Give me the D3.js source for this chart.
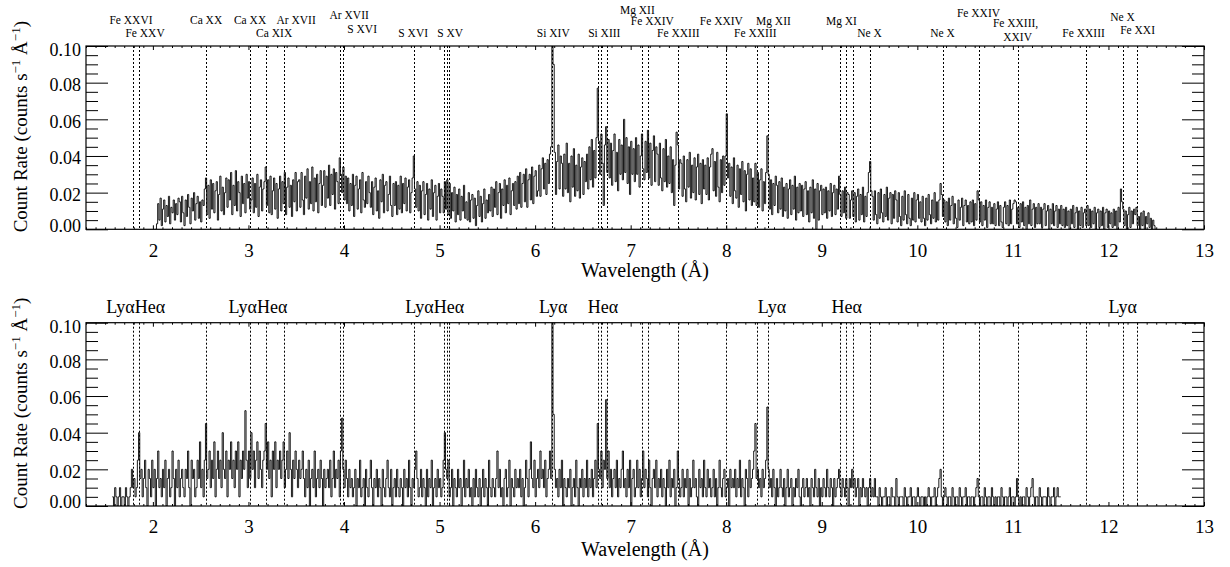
<!DOCTYPE html>
<html><head><meta charset="utf-8">
<script src="https://cdn.jsdelivr.net/npm/d3@7"></script>
<style>body{margin:0;background:#fff}</style>
</head><body>
<svg id="chart" width="1230" height="567"></svg>
<script>
// ---------------- DATA ----------------
// Emission line wavelengths (Å) marked with dotted lines
const lineWaves = [1.79, 1.85, 2.56, 3.02, 3.18, 3.37, 3.96, 3.99, 4.73, 5.05, 5.08, 5.10,
  6.18, 6.66, 6.69, 6.75, 7.12, 7.18, 7.50, 8.00, 8.32, 8.44, 9.19, 9.25, 9.33, 9.50,
  10.27, 10.65, 11.05, 11.76, 12.15, 12.30];
// Ion labels above upper panel
const topLabelText = ["Fe XXVI","Fe XXV","Ca XX","Ca XX","Ca XIX","Ar XVII","Ar XVII","S XVI","S XVI","S XV",
  "Si XIV","Si XIII","Mg XII","Fe XXIV","Fe XXIII","Fe XXIV","Mg XII","Fe XXIII","Mg XI","Ne X","Ne X",
  "Fe XXIV","Fe XXIII,","XXIV","Fe XXIII","Ne X","Fe XXI"];
const topLabelWave = [1.771, 1.918, 2.557, 3.017, 3.269, 3.499, 4.054, 4.19, 4.724, 5.112,
  6.19, 6.724, 7.07, 7.227, 7.499, 7.949, 8.494, 8.305, 9.206, 9.499, 10.263,
  10.64, 11.028, 11.049, 11.74, 12.148, 12.305];
// Transition labels above lower panel
const bottomLabelText = ["Ly\u03b1He\u03b1","Ly\u03b1He\u03b1","Ly\u03b1He\u03b1","Ly\u03b1","He\u03b1","Ly\u03b1","He\u03b1","Ly\u03b1"];
const bottomLabelWave = [1.82, 3.10, 4.95, 6.19, 6.71, 8.48, 9.26, 12.15];
// axis ticks
const xMajorTicks = [2,3,4,5,6,7,8,9,10,11,12,13];
const yMajorTicks = [0, 0.02, 0.04, 0.06, 0.08, 0.10];
// Spectrum bins (Å)
const binWidth = 0.0125;
const topStart = 2.025;
const bottomStart = 1.575;
// Upper panel count rate (counts s^-1 Å^-1), 0.25 Å per row
const topRate = [
0,.003,.014,.005,.017,.002,.011,.016,.004,.013,.007,.018,.003,.012,.009,.016,.005,.014,.008,.017,
.015,.004,.018,.009,.002,.016,.007,.019,.012,.003,.017,.010,.020,.005,.014,.018,.006,.015,.004,.016,
.013,.022,.028,.008,.024,.006,.027,.011,.025,.009,.021,.026,.005,.019,.029,.010,.023,.008,.020,.028,
.012,.027,.016,.031,.008,.024,.013,.032,.010,.026,.020,.007,.029,.014,.025,.009,.030,.017,.026,.011,
.016,.028,.009,.025,.012,.030,.007,.023,.027,.010,.022,.026,.034,.013,.027,.009,.029,.008,.021,.028,
.011,.025,.006,.022,.029,.010,.026,.014,.031,.008,.023,.028,.012,.024,.007,.027,.015,.031,.010,.026,
.027,.012,.031,.016,.008,.029,.017,.033,.011,.026,.014,.034,.010,.028,.015,.030,.009,.025,.032,.013,
.024,.032,.012,.029,.017,.035,.013,.030,.019,.033,.011,.031,.026,.014,.039,.030,.020,.034,.016,.029,
.014,.028,.010,.025,.013,.030,.007,.024,.029,.011,.022,.027,.009,.031,.016,.012,.026,.014,.029,.020,
.012,.026,.008,.023,.028,.010,.021,.006,.027,.015,.030,.009,.024,.026,.010,.019,.029,.013,.007,.025,
.013,.026,.008,.024,.011,.029,.009,.025,.014,.028,.010,.023,.027,.009,.020,.028,.040,.022,.012,.026,
.010,.024,.006,.021,.026,.008,.019,.025,.005,.022,.011,.027,.007,.020,.024,.005,.018,.025,.009,.022,
.018,.009,.026,.011,.027,.008,.025,.006,.020,.010,.023,.004,.019,.008,.022,.005,.018,.010,.024,.006,
.015,.005,.020,.004,.016,.019,.006,.017,.002,.013,.021,.007,.018,.004,.014,.022,.006,.016,.009,.019,
.010,.023,.007,.022,.012,.026,.008,.020,.025,.006,.022,.013,.027,.009,.024,.014,.028,.008,.021,.025,
.013,.026,.011,.029,.014,.031,.012,.025,.030,.015,.033,.012,.027,.030,.016,.034,.014,.029,.032,.018,
.021,.035,.018,.033,.039,.022,.036,.019,.038,.025,.041,.045,.106,.090,.042,.019,.037,.046,.022,.040,
.036,.018,.041,.022,.047,.020,.036,.015,.040,.023,.044,.018,.035,.021,.041,.017,.034,.039,.019,.037,
.026,.041,.022,.045,.027,.049,.023,.043,.028,.050,.077,.048,.030,.052,.036,.013,.046,.056,.031,.049,
.028,.047,.024,.043,.052,.026,.042,.021,.049,.030,.046,.027,.060,.031,.050,.025,.045,.019,.048,.030,
.044,.026,.050,.030,.046,.023,.040,.052,.033,.027,.048,.031,.054,.028,.047,.024,.043,.051,.026,.045,
.041,.024,.047,.028,.021,.044,.026,.049,.023,.040,.025,.045,.020,.038,.013,.035,.053,.046,.022,.038,
.036,.018,.040,.022,.015,.038,.023,.042,.017,.035,.020,.039,.016,.034,.041,.019,.036,.014,.038,.022,
.035,.019,.039,.016,.034,.041,.044,.021,.037,.018,.042,.023,.015,.038,.020,.040,.024,.040,.063,.028,
.036,.018,.034,.014,.039,.021,.017,.035,.012,.033,.019,.037,.015,.032,.010,.030,.036,.016,.033,.013,
.028,.015,.036,.013,.031,.012,.027,.033,.010,.026,.014,.031,.051,.030,.011,.027,.008,.025,.013,.029,
.024,.009,.026,.011,.028,.007,.023,.010,.025,.006,.022,.027,.008,.024,.011,.029,.005,.023,.009,.025,
.010,.024,.007,.022,.026,.008,.021,.004,.023,.009,.027,.006,.022,0,.025,.005,.021,.024,.008,.022,
.009,.023,.006,.021,.010,.025,.007,.020,.024,.008,.022,.011,.029,.019,.007,.021,.009,.023,.006,.020,
.019,.006,.016,.021,.007,.020,.004,.018,.022,.005,.019,.008,.023,.004,.018,.007,.020,.031,.037,.021,
.018,.005,.021,.008,.003,.020,.006,.022,.009,.004,.019,.007,.023,.005,.017,.020,.003,.019,.006,.021,
.016,.004,.020,.007,.002,.018,.005,.021,.008,.003,.019,.006,.002,.017,.005,.020,.004,.016,.019,.006,
.015,.004,.018,.006,.002,.017,.005,.019,.008,.003,.016,.006,.020,.004,.015,.005,.016,.025,.019,.007,
.016,.004,.015,.002,.017,.005,.013,.018,.003,.014,.006,.001,.016,.005,.012,.017,.002,.013,.016,.004,
.013,.003,.015,.004,.016,.002,.014,.005,.021,.016,.004,.015,.002,.013,.005,.016,.001,.012,.015,.003,
.012,.003,.014,.002,.011,.015,.002,.013,.004,.001,.012,.015,.003,.013,.002,.016,.003,.011,.014,.016,
.015,.003,.012,.001,.014,.004,.015,.002,.012,0,.013,.003,.016,.002,.011,.014,.001,.012,.003,.014,
.003,.012,.001,.011,.014,.002,.010,.013,0,.011,.003,.014,.002,.010,.013,.001,.011,.003,.013,.002,
.011,.001,.012,.002,.010,0,.011,.003,.013,.001,.009,.012,0,.010,.002,.012,.001,.009,.011,.002,
.013,.002,.011,.001,.010,.003,.012,0,.009,.011,.001,.010,.002,.012,0,.009,.011,.001,.010,.003,
.009,.001,.011,.002,.010,0,.012,.004,.022,.015,.011,.002,.010,0,.008,.012,.001,.010,.003,.011,
.008,.012,.002,.007,0,.009,.002,.010,0,.007,.003,.009,.001,.006,0,.005,.002,0
];
// Lower panel count rate (counts s^-1 Å^-1), 0.25 Å per row
const bottomRate = [
.005,0,.01,.005,0,.005,.01,0,.005,.005,0,.01,.005,0,.005,.01,.02,.01,.015,.005,
.01,.025,.04,.015,.02,.005,.015,.025,.01,0,.02,.015,.005,.025,.01,.02,0,.015,.03,.01,
.015,.005,.02,.01,.025,0,.015,.02,.005,.01,.03,.015,0,.02,.01,.025,.005,.015,.02,.01,
.005,.02,.015,.03,.01,0,.025,.015,.02,.005,.01,.025,.015,.035,.01,.02,.005,.025,.045,.015,
.02,.03,.01,.025,.015,.035,.005,.02,.03,.015,.025,.01,.04,.02,.015,.03,.005,.025,.02,.035,
.015,.025,.01,.03,.02,.035,.005,.025,.015,.03,.02,.052,.025,.01,.03,.015,.04,.02,.03,.01,
.025,.035,.015,.03,.02,.01,.025,.03,.045,.02,.035,.015,.025,.005,.03,.02,.035,.01,.025,.02,
.03,.015,.025,.035,.01,.02,.03,.015,.04,.02,.005,.025,.015,.03,.02,.01,.025,.015,.02,.03,
.015,.005,.02,.01,.025,0,.015,.02,.01,.03,.005,.015,.02,.01,.025,.015,0,.02,.01,.015,
.02,.01,.025,.005,.015,.03,.01,.02,.015,.025,.005,.03,.048,.02,.01,.025,.015,.005,.02,.01,
.015,.005,.01,.02,0,.015,.01,.025,.005,.01,.015,0,.02,.01,.005,.015,.025,.01,0,.015,
.01,.02,.005,.015,.01,0,.02,.01,.005,.015,.025,.01,.005,.02,0,.01,.015,.005,.02,.01,
.005,.015,.01,0,.02,.01,.015,.005,.025,.01,0,.015,.01,.02,.03,.015,.005,.01,.02,.005,
.015,.01,0,.02,.005,.015,.01,.025,0,.01,.015,.005,.02,.01,.015,.005,.01,.025,.04,.02,
.015,.025,.005,.01,.02,0,.015,.01,.005,.02,.01,.015,0,.01,.025,.005,.015,.01,.02,.005,
.01,0,.015,.005,.02,.01,.005,.015,0,.01,.02,.005,.015,.01,0,.025,.01,.005,.015,.01,
.005,.015,.03,.01,.02,.005,.01,0,.015,.02,.005,.01,.025,0,.015,.01,.005,.02,.01,.015,
.01,.02,.005,.015,0,.01,.025,.015,.005,.02,.035,.015,.01,.025,.005,.015,.02,.01,.03,.015,
.02,.01,.025,.005,.015,.02,.03,.015,.104,.05,.02,.01,.015,.005,.02,.01,.025,0,.015,.01,
.005,.015,.01,.02,0,.01,.015,.005,.025,.01,0,.015,.01,.02,.005,.015,.01,.025,.005,.015,
.01,.02,.005,.015,.025,.01,.045,.02,.015,.03,.01,.025,.02,.058,.015,.03,.01,.02,.005,.015,
.02,.01,.025,.005,.015,.01,.02,.03,.01,.015,.005,.02,.01,.025,0,.015,.02,.005,.01,.025,
.01,.02,.005,.015,.03,.01,.02,.015,.005,.025,.01,0,.015,.02,.01,.025,.005,.015,.01,.02,
.005,.015,.01,0,.02,.01,.025,.005,.015,.01,.02,0,.01,.03,.015,.005,.01,.02,.005,.015,
.01,.02,0,.015,.005,.01,.025,.01,.015,.005,0,.02,.01,.015,.005,.025,.01,.005,.02,.01,
.015,.005,.01,.02,.005,.015,0,.01,.025,.01,.005,.015,.02,.005,.01,.015,0,.02,.01,.015,
.01,.02,.005,.015,.01,.025,.005,.015,.01,0,.02,.015,.005,.025,.01,.015,.02,.03,.045,.015,
.02,.01,.015,.005,.02,.01,.015,.025,.054,.02,.01,.015,.005,.02,.01,0,.015,.005,.01,.02,
.01,.005,.015,0,.01,.02,.005,.01,.015,0,.01,.005,.015,.01,.02,.005,0,.01,.015,.005,
.01,.015,.005,.01,0,.015,.01,.005,.02,.01,.005,.015,0,.01,.005,.015,.01,.005,.02,.01,
.005,.015,.01,0,.015,.005,.01,.015,.02,.01,.005,.015,.01,.005,.015,.01,0,.015,.01,.02,
.01,.015,.005,.01,.015,0,.01,.005,.015,.01,.005,.01,0,.01,.015,.005,.01,.005,.015,.005,
.005,0,.01,.005,0,.005,.005,.01,0,.005,.005,0,.01,.005,.005,0,.015,.005,0,.005,
.005,.005,0,.01,.005,0,.005,.005,.01,0,.005,.005,0,.005,.01,.005,0,.005,.005,0,
.005,0,.005,.01,.005,0,.005,.005,.01,0,.005,.01,.015,.02,.005,0,.005,.01,.005,0,
.005,.005,0,.01,.005,0,.005,.005,0,.01,.005,0,.005,.005,.01,0,.005,.005,0,.005,
.005,0,.005,.01,.015,.005,0,.005,.005,0,.01,.005,0,.005,.005,0,.01,.005,0,.005,
0,.005,.005,0,.01,.005,0,.005,.005,0,.005,.01,0,.005,.005,0,.005,.015,.005,0,
.005,0,.005,.005,0,.01,.005,0,.005,.01,.015,.005,0,.005,.005,0,.01,.005,0,.005,
.005,.005,0,.01,.005,0,.005,.005,.01,0,.005,.01,.005,.005
];

// ---------------- LAYOUT ----------------
const FONT = "'Liberation Serif','Times New Roman',serif";
const plotX0 = 86, plotX1 = 1204;
const panels = [
  {y0: 46, y1: 229.3, rate: topRate, start: topStart, titleY: 270},
  {y0: 322.7, y1: 506, rate: bottomRate, start: bottomStart, titleY: 549}
];
const topLabelY = [20,33,20,20,33,20,15,29,33,33,33,33,10,21,33,21,21,33,21,33,33,13,23,37,33,17,30];
const bottomLabelY = 307;

const svg = d3.select("#chart");
const x = d3.scaleLinear().domain([1.3, 13]).range([plotX0, plotX1]);
const xMinor = d3.range(13, 131).map(d => d / 10).filter(d => Math.abs(d - Math.round(d)) > 1e-6);

panels.forEach((p, pi) => {
  const y = d3.scaleLinear().domain([0, 0.10]).range([p.y1, p.y0]);
  const yMinor = d3.range(0, 21).map(d => d * 0.005).filter(d => Math.abs(d / 0.02 - Math.round(d / 0.02)) > 1e-6);
  const g = svg.append("g");

  const clipId = "clip" + pi;
  svg.append("clipPath").attr("id", clipId).append("rect")
    .attr("x", plotX0).attr("y", p.y0).attr("width", plotX1 - plotX0).attr("height", p.y1 - p.y0);

  // dotted line markers
  g.append("g").attr("clip-path", `url(#${clipId})`).selectAll("line").data(lineWaves).join("line")
    .attr("x1", d => Math.round(x(d)) + 0.5).attr("x2", d => Math.round(x(d)) + 0.5)
    .attr("y1", p.y0).attr("y2", p.y1)
    .attr("stroke", "#000").attr("stroke-width", 1).attr("stroke-dasharray", "2,2");

  // spectrum (histogram style)
  const pts = p.rate.map((v, i) => ({w: p.start + i * binWidth, v}));
  pts.push({w: p.start + p.rate.length * binWidth, v: p.rate[p.rate.length - 1]});
  const line = d3.line().x(d => x(d.w)).y(d => y(d.v)).curve(d3.curveStepAfter);
  g.append("path").datum(pts).attr("clip-path", `url(#${clipId})`)
    .attr("d", line).attr("fill", "none").attr("stroke", "#000").attr("stroke-width", 0.9);

  // axes
  const styleAxis = (sel, fs) => {
    sel.select(".domain").remove();
    sel.selectAll("line").attr("stroke", "#000").attr("stroke-width", 1);
    sel.selectAll("text").style("font-family", FONT).style("font-size", (fs || 18) + "px").attr("fill", "#000");
  };
  g.append("g").attr("transform", `translate(0,${p.y1})`)
    .call(d3.axisBottom(x).tickValues(xMajorTicks).tickSize(-4).tickPadding(14).tickFormat(d3.format("d")))
    .call(s => styleAxis(s, 19));
  g.append("g").attr("transform", `translate(0,${p.y1})`)
    .call(d3.axisBottom(x).tickValues(xMinor).tickSize(-2).tickFormat("")).call(styleAxis);
  g.append("g").attr("transform", `translate(0,${p.y0})`)
    .call(d3.axisTop(x).tickValues(xMajorTicks).tickSize(-4).tickFormat("")).call(styleAxis);
  g.append("g").attr("transform", `translate(0,${p.y0})`)
    .call(d3.axisTop(x).tickValues(xMinor).tickSize(-2).tickFormat("")).call(styleAxis);
  g.append("g").attr("transform", `translate(${plotX0},0)`)
    .call(d3.axisLeft(y).tickValues(yMajorTicks).tickSize(-22).tickPadding(5).tickFormat(d3.format(".2f")))
    .call(s => styleAxis(s, 18))
    .call(s => s.selectAll("text").attr("y", d => d >= 0.099 ? 4 : (d <= 0.001 ? -4 : 2)));
  g.append("g").attr("transform", `translate(${plotX0},0)`)
    .call(d3.axisLeft(y).tickValues(yMinor).tickSize(-12).tickFormat("")).call(styleAxis);
  g.append("g").attr("transform", `translate(${plotX1},0)`)
    .call(d3.axisRight(y).tickValues(yMajorTicks).tickSize(-22).tickFormat("")).call(styleAxis);
  g.append("g").attr("transform", `translate(${plotX1},0)`)
    .call(d3.axisRight(y).tickValues(yMinor).tickSize(-12).tickFormat("")).call(styleAxis);

  // frame
  g.append("rect").attr("x", plotX0).attr("y", p.y0).attr("width", plotX1 - plotX0).attr("height", p.y1 - p.y0)
    .attr("fill", "none").attr("stroke", "#000").attr("stroke-width", 1.2);

  // axis titles
  g.append("text").attr("x", (plotX0 + plotX1) / 2).attr("y", p.titleY).attr("text-anchor", "middle")
    .attr("dominant-baseline", "central").style("font-family", FONT).style("font-size", "20px").text("Wavelength (\u00c5)");
  const yt = g.append("text").attr("transform", `translate(27,${(p.y0 + p.y1) / 2 - 11}) rotate(-90)`)
    .attr("text-anchor", "middle").style("font-family", FONT).style("font-size", "19px");
  yt.append("tspan").text("Count Rate (counts s");
  yt.append("tspan").attr("dy", -7).style("font-size", "13px").text("\u22121");
  yt.append("tspan").attr("dy", 7).text(" \u00c5");
  yt.append("tspan").attr("dy", -7).style("font-size", "13px").text("\u22121");
  yt.append("tspan").attr("dy", 7).text(")");
});

// ion labels (upper panel)
svg.append("g").selectAll("text").data(topLabelText).join("text")
  .attr("x", (d, i) => x(topLabelWave[i])).attr("y", (d, i) => topLabelY[i])
  .attr("text-anchor", "middle").attr("dominant-baseline", "central")
  .style("font-family", FONT).style("font-size", "11.5px").text(d => d);

// transition labels (lower panel)
svg.append("g").selectAll("text").data(bottomLabelText).join("text")
  .attr("x", (d, i) => x(bottomLabelWave[i])).attr("y", bottomLabelY)
  .attr("text-anchor", "middle").attr("dominant-baseline", "central")
  .style("font-family", FONT).style("font-size", "18px").text(d => d);
</script>
</body></html>
